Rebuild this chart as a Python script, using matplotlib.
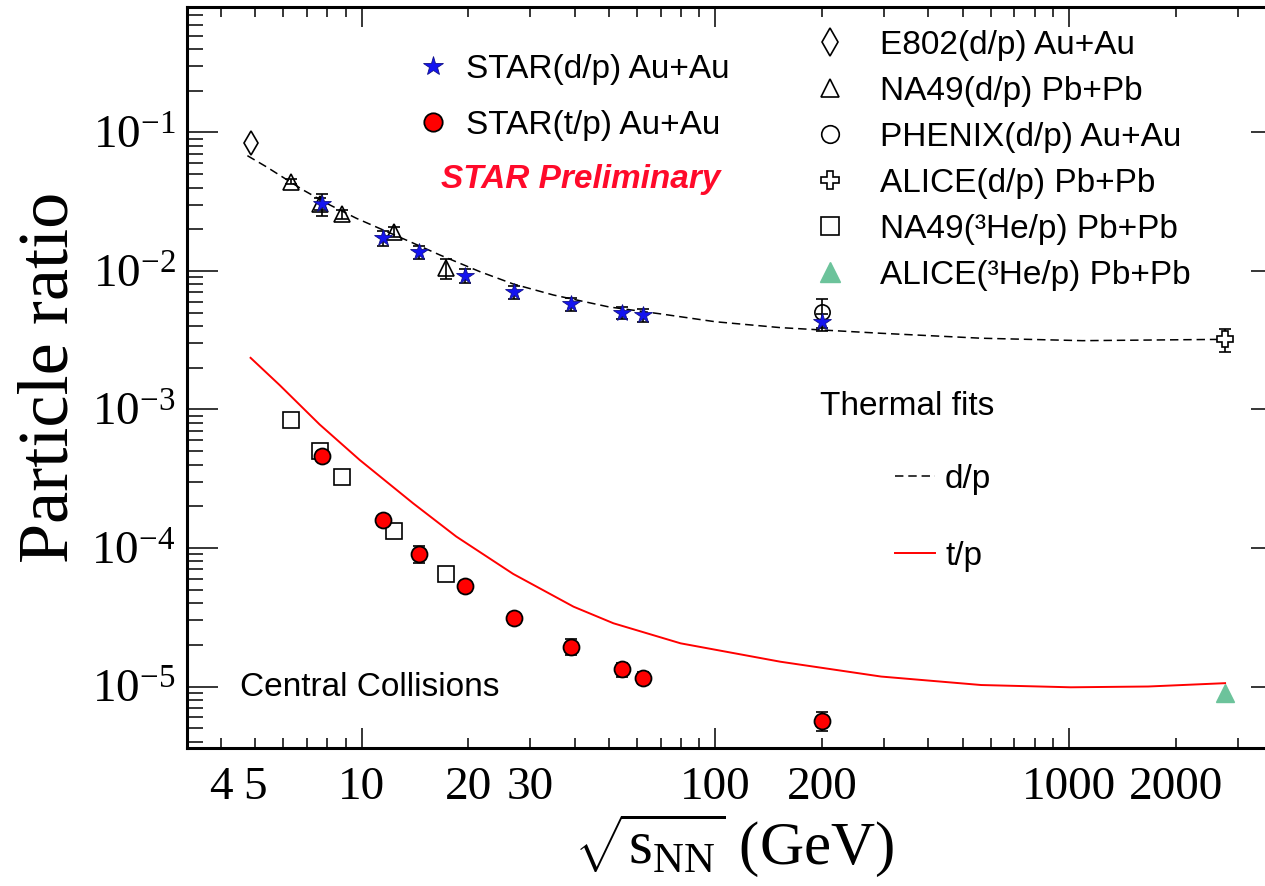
import math
import matplotlib
matplotlib.use('Agg')
import matplotlib.pyplot as plt
from matplotlib.ticker import FixedLocator, FuncFormatter, NullFormatter

plt.rcParams['font.family'] = 'serif'
plt.rcParams['font.serif'] = ['Liberation Serif', 'DejaVu Serif']
plt.rcParams['mathtext.fontset'] = 'custom'
plt.rcParams['mathtext.rm'] = 'Liberation Serif'
plt.rcParams['mathtext.it'] = 'Liberation Serif:italic'
plt.rcParams['mathtext.bf'] = 'Liberation Serif:bold'

SANS = 'Liberation Sans'

# ---- data ----
e802_x = [4.85]
e802_y = [0.0836]

na49_dp_x = [6.3, 7.6, 8.8, 12.3, 17.3]
na49_dp_y = [0.0442, 0.0305, 0.0257, 0.0192, 0.0105]
na49_dp_err = [0.002, 0.003, 0.002, 0.0015, 0.0018]

star_dp_x = [7.7, 11.5, 14.5, 19.6, 27, 39, 54.4, 62.4, 200]
star_dp_y = [0.0305, 0.0174, 0.01365, 0.00925, 0.00705, 0.00578, 0.00497, 0.00481, 0.0043]
star_dp_err = [0.0055, 0.0022, 0.0014, 0.0011, 0.0008, 0.0006, 0.0005, 0.0005, 0.0006]

star_tp_x = [7.7, 11.5, 14.5, 19.6, 27, 39, 54.4, 62.4, 200]
star_tp_y = [4.62e-4, 1.59e-4, 9.05e-5, 5.35e-5, 3.10e-5, 1.94e-5, 1.33e-5, 1.16e-5, 5.66e-6]
star_tp_err = [4e-5, 1.2e-5, 1.3e-5, 4e-6, 2.5e-6, 2.5e-6, 1.5e-6, 1.2e-6, 0.85e-6]

phenix_x = [200]
phenix_y = [0.00508]
phenix_err = [0.0012]

alice_dp_x = [2760]
alice_dp_y = [0.00321]
alice_dp_err = [0.0006]

na49_he3_x = [6.3, 7.6, 8.8, 12.3, 17.3]
na49_he3_y = [8.4e-4, 5.04e-4, 3.27e-4, 1.33e-4, 6.49e-5]

alice_he3_x = [2760]
alice_he3_y = [8.93e-6]

# thermal model curves
fit_dp_x = [4.75, 5.37, 6.82, 8.12, 9.66, 13.67, 16.63, 21.6, 26.8, 34.8, 50, 70, 100,
            152.6, 200, 294, 564, 1090, 2760]
fit_dp_y = [0.068, 0.0566, 0.0385, 0.0300, 0.0240, 0.0163, 0.01305, 0.00988, 0.00806,
            0.00671, 0.0055, 0.0049, 0.0043, 0.0039, 0.00375, 0.00355, 0.00327, 0.00314, 0.00321]

fit_tp_x = [4.85, 5.86, 7.6, 9.87, 13.98, 18.5, 26.8, 39.7, 51.5, 79.7, 152.6, 294, 564,
            1011, 1673, 2760]
fit_tp_y = [2.36e-3, 1.5e-3, 7.8e-4, 4.32e-4, 2.10e-4, 1.21e-4, 6.5e-5, 3.77e-5, 2.86e-5,
            2.05e-5, 1.51e-5, 1.18e-5, 1.025e-5, 9.87e-6, 1.0e-5, 1.057e-5]

x_labels = [4, 5, 10, 20, 30, 100, 200, 1000, 2000]
y_labels = [1e-5, 1e-4, 1e-3, 1e-2, 1e-1]

fig = plt.figure(figsize=(12.65, 8.86), dpi=100)
ax = fig.add_axes([0.1476, 0.1558, 0.8659, 0.8367])
ax.set_xscale('log')
ax.set_yscale('log')
ax.set_xlim(3.2, 4000)
ax.set_ylim(3.6e-6, 0.81)

# fits
l_dp, = ax.plot(fit_dp_x, fit_dp_y, color='black', lw=1.1, ls=(0, (5.5, 3.2)), zorder=2)
l_tp, = ax.plot(fit_tp_x, fit_tp_y, color='red', lw=1.4, zorder=2)

eb = dict(fmt='none', ecolor='black', elinewidth=1.2, capsize=4.5, capthick=1.2, zorder=3)
ax.errorbar(na49_dp_x, na49_dp_y, yerr=na49_dp_err, **eb)
ax.errorbar(star_dp_x, star_dp_y, yerr=star_dp_err, **eb)
ax.errorbar(star_tp_x, star_tp_y, yerr=star_tp_err, **eb)
ax.errorbar(phenix_x, phenix_y, yerr=phenix_err, **eb)
ax.errorbar(alice_dp_x, alice_dp_y, yerr=alice_dp_err, **eb)

h_e802, = ax.plot(e802_x, e802_y, ls='none', marker='d', ms=12, mfc='none', mec='black', mew=1.2, zorder=4)
h_na49, = ax.plot(na49_dp_x, na49_dp_y, ls='none', marker='^', ms=11, mfc='none', mec='black', mew=1.2, zorder=4)
h_phx, = ax.plot(phenix_x, phenix_y, ls='none', marker='o', ms=11, mfc='none', mec='black', mew=1.2, zorder=4)
h_ali, = ax.plot(alice_dp_x, alice_dp_y, ls='none', marker='P', ms=11, mfc='white', mec='black', mew=1.2, zorder=4)
h_he3, = ax.plot(na49_he3_x, na49_he3_y, ls='none', marker='s', ms=11, mfc='none', mec='black', mew=1.2, zorder=4)
h_ahe, = ax.plot(alice_he3_x, alice_he3_y, ls='none', marker='^', ms=13, mfc='#6CC39B', mec='#6CC39B', zorder=4)
h_sdp, = ax.plot(star_dp_x, star_dp_y, ls='none', marker='*', ms=13, mfc='#1414F0', mec='#10108A', mew=0.6, zorder=5)
h_stp, = ax.plot(star_tp_x, star_tp_y, ls='none', marker='o', ms=11.5, mfc='#FF0000', mec='black', mew=1.3, zorder=5)

# axes styling
for s in ax.spines.values():
    s.set_linewidth(2.2)
ax.xaxis.set_major_locator(FixedLocator([10, 100, 1000]))
ax.xaxis.set_minor_locator(FixedLocator([m * d for d in [1, 10, 100, 1000] for m in range(2, 10) if 3.2 <= m * d <= 4000]))
lab = lambda v, pos: '%d' % round(v) if round(v) in x_labels else ''
ax.xaxis.set_major_formatter(FuncFormatter(lab))
ax.xaxis.set_minor_formatter(FuncFormatter(lab))
ax.yaxis.set_major_locator(FixedLocator(y_labels))
ax.yaxis.set_major_formatter(FuncFormatter(lambda v, pos: r'$10^{%d}$' % round(math.log10(v))))
ax.yaxis.set_minor_locator(FixedLocator([m * 10.0 ** e for e in range(-6, 0) for m in range(2, 10)]))
ax.yaxis.set_minor_formatter(NullFormatter())

ax.tick_params(axis='both', which='both', direction='in', top=True, right=True, width=1.1, labelsize=34)
ax.tick_params(axis='x', which='major', length=14.5, pad=13)
ax.tick_params(axis='x', which='minor', length=7, pad=13)
ax.tick_params(axis='y', which='major', length=22.5, pad=8)
ax.tick_params(axis='y', which='minor', length=11.5)

ax.set_xlabel(r'$\sqrt{\mathrm{s}_{\mathrm{NN}}}$ (GeV)', fontsize=44, labelpad=2)
ax.set_ylabel('Particle ratio', fontsize=52, labelpad=6)

# legends
leg_r = ax.legend([h_e802, h_na49, h_phx, h_ali, h_he3, h_ahe],
                  ['E802(d/p) Au+Au', 'NA49(d/p) Pb+Pb', 'PHENIX(d/p) Au+Au', 'ALICE(d/p) Pb+Pb',
                   'NA49(³He/p) Pb+Pb', 'ALICE(³He/p) Pb+Pb'],
                  loc='upper left', bbox_to_anchor=(0.572, 0.969), frameon=False, borderpad=0,
                  borderaxespad=0, handlelength=1.0, handletextpad=1.0, labelspacing=0.45,
                  markerscale=1.15, prop={'family': SANS, 'size': 24})
ax.add_artist(leg_r)
leg_l = ax.legend([h_sdp, h_stp], ['STAR(d/p) Au+Au', 'STAR(t/p) Au+Au'],
                  loc='upper left', bbox_to_anchor=(0.2097, 0.9366), frameon=False, borderpad=0,
                  borderaxespad=0, handlelength=1.0, handletextpad=0.5, labelspacing=0.75,
                  markerscale=1.15, prop={'family': SANS, 'size': 24})
ax.add_artist(leg_l)
ax.legend([l_dp, l_tp], ['d/p', 't/p'], loc='upper left', bbox_to_anchor=(0.6467, 0.383),
          frameon=False, borderpad=0, borderaxespad=0, handlelength=1.2, handletextpad=0.3,
          labelspacing=1.38, prop={'family': SANS, 'size': 24})

ax.text(0.578, 0.460, 'Thermal fits', transform=ax.transAxes, ha='left', va='center',
        fontsize=24, family=SANS)
ax.text(0.0486, 0.0811, 'Central Collisions', transform=ax.transAxes, ha='left', va='center',
        fontsize=24, family=SANS)
ax.text(0.3601, 0.767, 'STAR Preliminary', transform=ax.transAxes, ha='center', va='center',
        fontsize=24, family=SANS, color='#FF0A2A', fontweight='bold', fontstyle='italic')

fig.savefig('out.png', dpi=100)
